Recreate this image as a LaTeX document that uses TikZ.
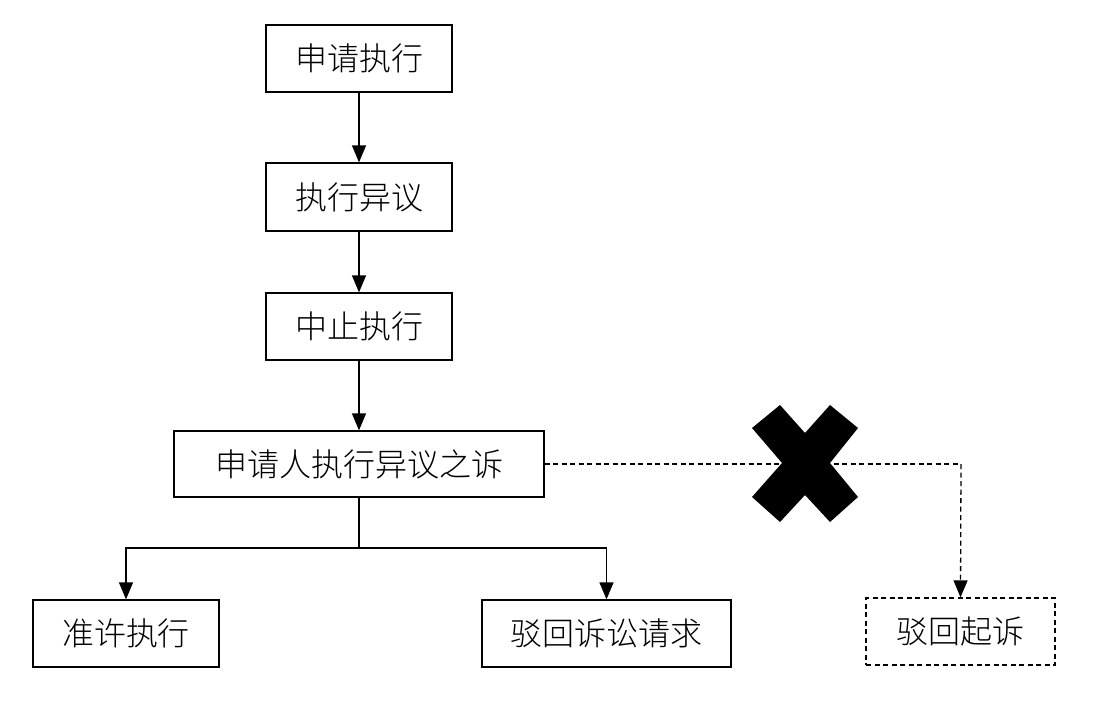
\documentclass[tikz,border=0pt]{standalone}
\usepackage{fontspec}
\newfontfamily\cjk{Noto Sans CJK SC Light}
\usetikzlibrary{arrows.meta}
\begin{document}
\begin{tikzpicture}[x=1pt,y=-1pt,
  box/.style={draw,line width=1.3pt,rectangle,inner sep=0pt,minimum height=67pt,
    font=\cjk\fontsize{32}{36}\selectfont},
  dbox/.style={box,dash pattern=on 5pt off 3.5pt},
  arr/.style={line width=1.3pt,-{Triangle[width=14pt,length=17pt]}},
  ln/.style={line width=1.3pt},
  darr/.style={arr,dash pattern=on 5pt off 3.5pt}]
\useasboundingbox (0,0) rectangle (1093,715);
\node[box,minimum width=186pt] (b1) at (359,58.5) {申请执行};
\node[box,minimum width=186pt,minimum height=68pt] (b2) at (359,197) {执行异议};
\node[box,minimum width=186pt] (b3) at (359,326.5) {中止执行};
\node[box,minimum width=370pt,minimum height=66pt] (b4) at (359,464) {申请人执行异议之诉};
\node[box,minimum width=186pt] (b5) at (126,633.5) {准许执行};
\node[box,minimum width=249pt] (b6) at (606.5,633.5) {驳回诉讼请求};
\node[dbox,minimum width=189pt] (b7) at (960.5,631.5) {驳回起诉};
\coordinate (j) at (359,548);
\coordinate (k) at (961,464);
\draw[arr] (b1) -- (b2);
\draw[arr] (b2) -- (b3);
\draw[arr] (b3) -- (b4);
\draw[ln] (b4) -- (j);
\draw[arr] (j) -| (b5.north);
\draw[arr] (j) -| (b6.north);
\draw[ln,dash pattern=on 5pt off 3.5pt] (b4.east) -- (k);
\draw[darr] (k) -- (b7.north);
\fill (752,428) -- (780,405) -- (805,433) -- (830,405) -- (858,428) -- (830,463)
  -- (858,497) -- (830,522) -- (805,495) -- (780,522) -- (752,497) -- (782,463) -- cycle;
\end{tikzpicture}
\end{document}
